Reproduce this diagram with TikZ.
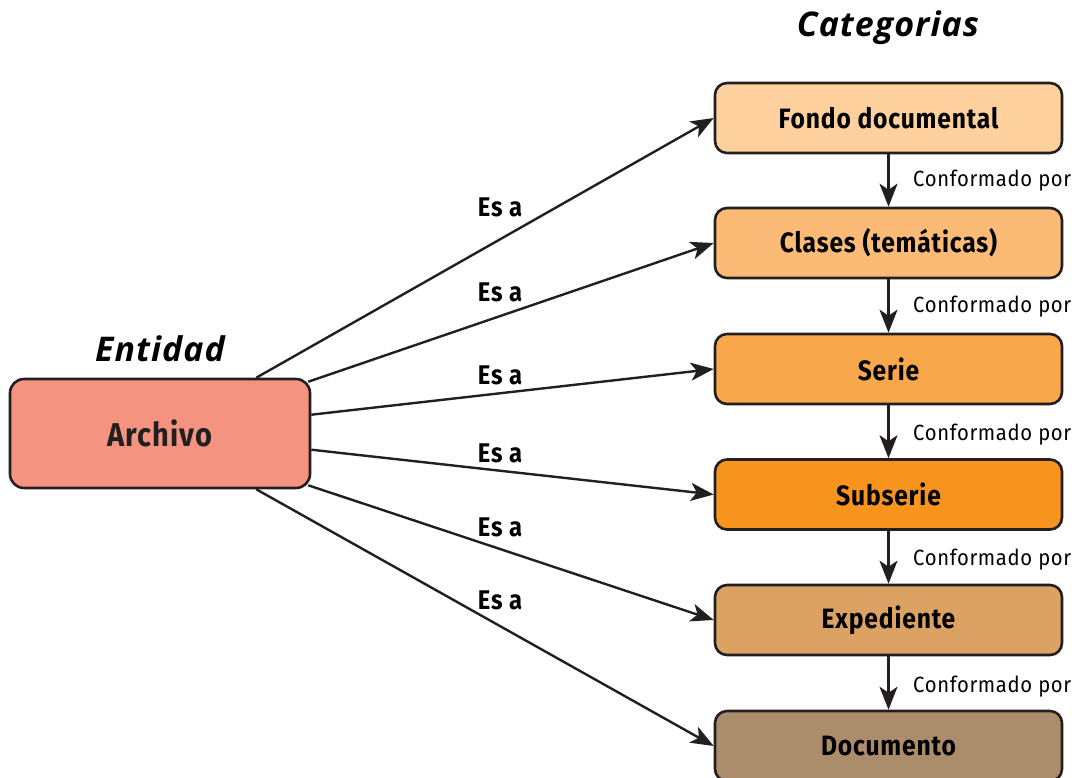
\documentclass[tikz,border=0pt]{standalone}
\usepackage{fontspec}
\setmainfont{Fira Sans}
\newfontfamily\titlefont[LetterSpace=3]{Open Sans}
\newfontfamily\boxfont[FakeStretch=0.88,LetterSpace=3]{Fira Sans}
\newfontfamily\labelfont[FakeStretch=0.92,LetterSpace=3]{Fira Sans}
\usetikzlibrary{arrows.meta,calc}

\definecolor{ink}{HTML}{231F20}
\definecolor{archfill}{HTML}{F4937F}
\definecolor{fondofill}{HTML}{FED09E}
\definecolor{clasesfill}{HTML}{FBBB76}
\definecolor{seriefill}{HTML}{F9A74B}
\definecolor{subseriefill}{HTML}{F7941E}
\definecolor{expfill}{HTML}{DCA263}
\definecolor{docfill}{HTML}{AC8D6B}

\tikzset{
  catbox/.style={draw=ink, line width=2.6pt, rounded corners=12pt,
    minimum width=347pt, minimum height=70pt, text=black,
    font=\boxfont\bfseries\fontsize{28}{32}\selectfont},
  entbox/.style={draw=ink, line width=2.6pt, rounded corners=14pt,
    fill=archfill, minimum width=300pt, minimum height=109pt, text=ink,
    font=\boxfont\bfseries\fontsize{33}{38}\selectfont},
  heading/.style={font=\titlefont\bfseries\itshape\fontsize{34}{40}\selectfont},
  isa/.style={draw=ink, line width=2.4pt,
    -{Stealth[length=23pt,width=18pt,inset=6pt]}},
  isalabel/.style={font=\boxfont\bfseries\fontsize{27}{31}\selectfont},
  madeof/.style={draw=ink, line width=2.4pt,
    -{Stealth[length=23pt,width=18pt,inset=6pt]}},
  madeoflabel/.style={anchor=west, inner sep=0pt,
    font=\labelfont\fontsize{22}{26}\selectfont}
}

\begin{document}
\begin{tikzpicture}[x=1pt,y=-1pt]
\useasboundingbox (0,0) rectangle (1078,777);

% titles
\node[heading] (cattitle) at (888,28) {Categorias};
\node[heading] (enttitle) at (160,349) {Entidad};

% entity
\node[entbox] (arch) at (160,433.5) {Archivo};

% categories
\node[catbox, fill=fondofill]    (fondo)  at (888.5,118)   {Fondo documental};
\node[catbox, fill=clasesfill]   (clases) at (888.5,243)   {Clases (temáticas)};
\node[catbox, fill=seriefill]    (serie)  at (888.5,369)   {Serie};
\node[catbox, fill=subseriefill] (subs)   at (888.5,494.5) {Subserie};
\node[catbox, fill=expfill]      (exped)  at (888.5,620)   {Expediente};
\node[catbox, fill=docfill]      (docu)   at (888.5,746)   {Documento};

% start points on the entity box
\coordinate (s1) at ($(arch.north east)+(-55,0)$);
\coordinate (s2) at ($(arch.north east)+(-3,4)$);
\coordinate (s3) at ($(arch.north east)+(0,37)$);
\coordinate (s4) at ($(arch.north east)+(0,72)$);
\coordinate (s5) at ($(arch.south east)+(-3,-4)$);
\coordinate (s6) at ($(arch.south east)+(-55,0)$);

% "Es a" relations
\draw[isa] (s1) -- (fondo.west);
\draw[isa] (s2) -- (clases.west);
\draw[isa] (s3) -- (serie.west);
\draw[isa] (s4) -- (subs.west);
\draw[isa] (s5) -- (exped.west);
\draw[isa] (s6) -- (docu.west);

\node[isalabel] (l1) at (500,207) {Es a};
\node[isalabel] (l2) at (500,292) {Es a};
\node[isalabel] (l3) at (500,375) {Es a};
\node[isalabel] (l4) at (500,453) {Es a};
\node[isalabel] (l5) at (500,527) {Es a};
\node[isalabel] (l6) at (500,600) {Es a};

% "Conformado por" chain
\draw[madeof] (fondo.south)  -- (clases.north);
\draw[madeof] (clases.south) -- (serie.north);
\draw[madeof] (serie.south)  -- (subs.north);
\draw[madeof] (subs.south)   -- (exped.north);
\draw[madeof] (exped.south)  -- (docu.north);

\node[madeoflabel] (c1) at (913,181) {Conformado por};
\node[madeoflabel] (c2) at (913,307) {Conformado por};
\node[madeoflabel] (c3) at (913,435) {Conformado por};
\node[madeoflabel] (c4) at (913,560) {Conformado por};
\node[madeoflabel] (c5) at (913,687) {Conformado por};
\end{tikzpicture}
\end{document}
